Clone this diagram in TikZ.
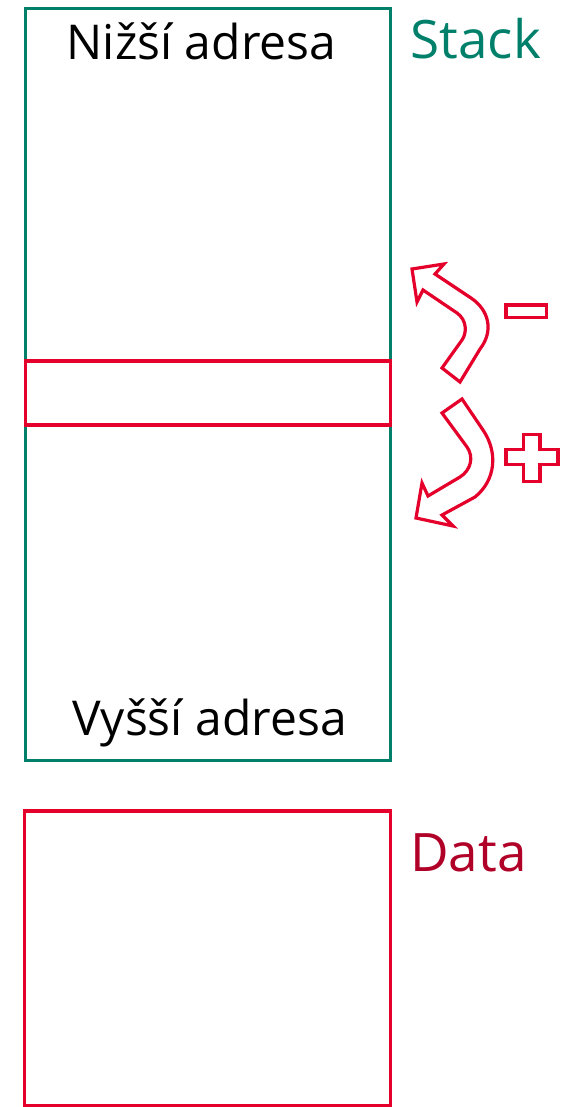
\documentclass[tikz,border=0pt]{standalone}
\usepackage{fontspec}
\setmainfont{Open Sans}
\definecolor{stackgreen}{HTML}{00806A}
\definecolor{memred}{HTML}{E4002B}
\definecolor{datared}{HTML}{B00028}
\begin{document}
\begin{tikzpicture}[x=1pt,y=-1pt,
  region/.style={draw=#1, line width=3.6pt, inner sep=0pt, outer sep=0pt},
  label/.style={inner sep=0pt, anchor=base, font=\fontsize{48}{58}\selectfont},
  sidelabel/.style={inner sep=0pt, anchor=base west, text=#1, font=\fontsize{53}{62}\selectfont},
  outline/.style={draw=memred, line width=3.2pt, line join=miter, fill=white}]
\useasboundingbox (0,0) rectangle (567,1107);

% stack area and the current slot
\node[region=stackgreen, minimum width=365pt, minimum height=752pt] (stack) at (208,384.5) {};
\node[region=memred, minimum width=365pt, minimum height=64pt] (slot) at (208,393) {};
% data area, running past the bottom edge
\node[region=memred, minimum width=366pt, minimum height=294.5pt] (data) at (207.5,958.25) {};

% address labels
\node[label] (low) at (201.5,59.5) {Nižší adresa};
\node[label] (high) at (209.5,735.5) {Vyšší adresa};

% area names
\node[sidelabel=stackgreen] (stackname) at (410.5,59) {Stack};
\node[sidelabel=datared] (dataname) at (410,871) {Data};

% curved arrow up (towards lower addresses)
\draw[outline] (412,269) -- (444,264) -- (435,274) -- (471,298)
  .. controls (489,310) and (494,331) .. (480,349) -- (460,382) -- (442,368) -- (462,340)
  .. controls (467,333) and (467,320) .. (457,313) -- (423,290) -- (417,302) -- cycle;

% curved arrow down (towards higher addresses)
\draw[outline] (442,413) -- (462,399) -- (483,430)
  .. controls (498,452) and (496,480) .. (475,497) -- (442,515) -- (453,526) -- (416,518)
  -- (422,483) -- (428,496) -- (460,477)
  .. controls (471,470) and (474,457) .. (467,447) -- cycle;

% minus sign
\draw[outline] (506,305) rectangle (546.5,317.5);
% plus sign
\draw[outline] (523.5,434.5) -- (540,434.5) -- (540,449.5) -- (558,449.5) -- (558,464.5)
  -- (540,464.5) -- (540,481.5) -- (523.5,481.5) -- (523.5,464.5) -- (506,464.5)
  -- (506,449.5) -- (523.5,449.5) -- cycle;
\end{tikzpicture}
\end{document}
